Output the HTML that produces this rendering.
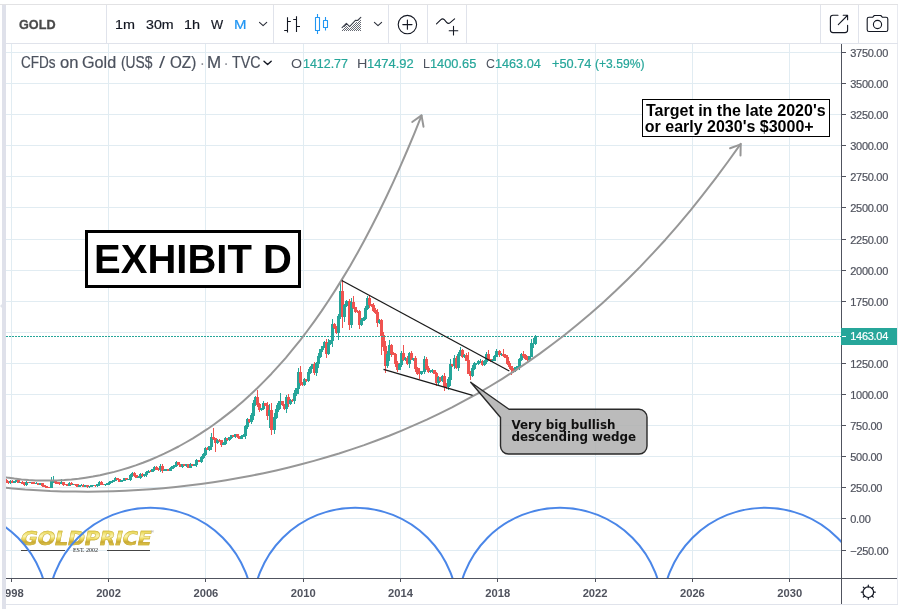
<!DOCTYPE html>
<html lang="en"><head><meta charset="utf-8"><title>GOLD chart - Exhibit D</title>
<style>
*{box-sizing:border-box}
html,body{margin:0;padding:0;background:#fff}
body{width:898px;height:609px;overflow:hidden;position:relative;font-family:"Liberation Sans",sans-serif;color:#131722}
#app{position:absolute;left:0;top:0;width:898px;height:609px;overflow:hidden}
.abs{position:absolute}
.hline{position:absolute;height:1px;background:#e0e3eb}
.vsep{position:absolute;top:5px;width:1px;height:38px;background:#e0e3eb}
.tb{position:absolute;top:5px;height:38px;line-height:38px;font-size:14px;white-space:nowrap;-webkit-text-stroke:0.2px}
.pl{position:absolute;left:850.3px;width:46px;height:16px;line-height:16px;font-size:11px;letter-spacing:-0.3px;color:#50535e;white-space:nowrap;-webkit-text-stroke:0.2px}
.pt{position:absolute;left:842px;width:4px;height:1px;background:#50535e}
.tl{position:absolute;top:585px;width:40px;text-align:center;height:16px;line-height:16px;font-size:11.2px;font-weight:bold;color:#50535e}
.tt{position:absolute;top:579px;width:1px;height:3px;background:#50535e}
.lg{position:absolute;top:54px;height:18px;line-height:18px;white-space:nowrap}
.pt2{white-space:nowrap;line-height:40px;height:40px;transform-origin:0 0}
</style></head><body><div id="app">
<div class="abs" style="left:0;top:4px;width:898px;height:1px;background:#e2e2e4"></div>
<div class="abs" style="left:2px;top:5px;width:4px;height:604px;background:#dfe1ea"></div>
<div class="abs" style="left:897px;top:5px;width:1px;height:600px;background:#e8eaf0"></div>
<div class="abs" style="left:0;top:304px;width:0;height:0;border-top:2px solid transparent;border-bottom:2px solid transparent;border-right:2px solid #e0e3eb"></div>
<div class="hline" style="left:6px;top:43px;width:892px"></div>
<div class="hline" style="left:6px;top:604px;width:892px"></div>

<!-- toolbar -->
<span class="abs pt2" id="sym" style="left:18.93px;top:4.70px;font-size:13.3px;font-weight:bold;color:#4a4a4a;transform:scaleX(0.9505);-webkit-text-stroke:0.3px">GOLD</span>
<div class="vsep" style="left:106px"></div>
<span class="abs pt2" style="left:114.80px;top:4.81px;font-size:13.3px;color:#131722;transform:scaleX(1.0800);-webkit-text-stroke:0.2px">1m</span> <span class="abs pt2" style="left:145.59px;top:4.81px;font-size:13.3px;color:#131722;transform:scaleX(1.0670);-webkit-text-stroke:0.2px">30m</span> <span class="abs pt2" style="left:183.69px;top:4.81px;font-size:13.3px;color:#131722;transform:scaleX(1.0863);-webkit-text-stroke:0.2px">1h</span> <span class="abs pt2" style="left:211.37px;top:4.81px;font-size:13.3px;color:#131722;transform:scaleX(0.9662);-webkit-text-stroke:0.2px">W</span> <span class="abs pt2" style="left:233.75px;top:4.81px;font-size:13.3px;color:#2196f3;transform:scaleX(1.1273);-webkit-text-stroke:0.2px">M</span>
<div class="vsep" style="left:273px"></div>
<div class="vsep" style="left:388px"></div>
<div class="vsep" style="left:427px"></div>
<div class="vsep" style="left:466px"></div>
<div class="vsep" style="left:820px"></div>
<div class="vsep" style="left:858px"></div>
<svg class="abs" style="left:0;top:0" width="898" height="44" viewBox="0 0 898 44" fill="none" stroke="#131722" stroke-width="1.1" stroke-linecap="round" stroke-linejoin="round">
<path d="M259.5,22.4 l3.6,3.3 l3.6,-3.3" stroke-width="1.1" stroke="#2a2e39"/>
<path d="M374.4,22.4 l3.6,3.3 l3.6,-3.3" stroke-width="1.1" stroke="#2a2e39"/>
<path d="M287.5,17.2 V32.6 M284.2,30.5 H287.5 M287.5,21.5 H290.8 M296.5,16.3 V32 M293.2,19.5 H296.5 M296.5,26.5 H300" stroke-linecap="butt"/>
<g stroke="#2196f3" stroke-linecap="butt"><rect x="315.5" y="17.5" width="4" height="13"/><path d="M317.5,14 V17.5 M317.5,30.5 V34"/><rect x="323.5" y="20.5" width="4" height="7"/><path d="M325.5,17 V20.5 M325.5,27.5 V30.5"/></g>
<path d="M360,20h1v1h-1zM359,21h1v1h-1zM356,22h1v1h-1zM358,22h1v1h-1zM360,22h1v1h-1zM355,23h1v1h-1zM357,23h1v1h-1zM359,23h1v1h-1zM354,24h1v1h-1zM356,24h1v1h-1zM358,24h1v1h-1zM360,24h1v1h-1zM345,25h1v1h-1zM353,25h1v1h-1zM355,25h1v1h-1zM357,25h1v1h-1zM359,25h1v1h-1zM344,26h1v1h-1zM346,26h1v1h-1zM352,26h1v1h-1zM354,26h1v1h-1zM356,26h1v1h-1zM358,26h1v1h-1zM360,26h1v1h-1zM345,27h1v1h-1zM347,27h1v1h-1zM351,27h1v1h-1zM353,27h1v1h-1zM355,27h1v1h-1zM357,27h1v1h-1zM359,27h1v1h-1zM344,28h1v1h-1zM346,28h1v1h-1zM348,28h1v1h-1zM350,28h1v1h-1zM352,28h1v1h-1zM354,28h1v1h-1zM356,28h1v1h-1zM358,28h1v1h-1zM360,28h1v1h-1zM343,29h1v1h-1zM345,29h1v1h-1zM347,29h1v1h-1zM349,29h1v1h-1zM351,29h1v1h-1zM353,29h1v1h-1zM355,29h1v1h-1zM357,29h1v1h-1zM359,29h1v1h-1zM342,30h1v1h-1zM344,30h1v1h-1zM346,30h1v1h-1zM348,30h1v1h-1zM350,30h1v1h-1zM352,30h1v1h-1zM354,30h1v1h-1zM356,30h1v1h-1zM358,30h1v1h-1zM360,30h1v1h-1z" fill="#4a4e59" stroke="none" opacity="0.85"/>
<path d="M342.1,27.7 L346.4,23.4 L349.6,26.6 L355.4,20.4 L357.6,20.5 L360.8,17.3" stroke="#3c404b" stroke-width="1.15"/>
<circle cx="407.4" cy="24.6" r="9.2"/>
<path d="M402.8,24.6 H412 M407.4,20 V29.2"/>
<path d="M436.5,23.8 L440.9,19.6 Q442.6,18 444.3,19.7 L446.6,22.3 Q448.3,24.2 450.2,22.6 L454.6,18.9"/>
<path d="M449.2,30.7 H457.8 M453.5,26.4 V35"/>
<path d="M838,15.3 H833 a2.6,2.6 0 0 0 -2.6,2.6 V30 a2.6,2.6 0 0 0 2.6,2.6 H845 a2.6,2.6 0 0 0 2.6,-2.6 V25.2"/>
<path d="M838.3,24.6 L847.4,15.5 M843.2,15.3 H847.6 V19.7"/>
<path d="M869,17.3 H872.6 L874.3,15.5 H880.8 L882.5,17.3 H886 a1.8,1.8 0 0 1 1.8,1.8 V29.7 a1.8,1.8 0 0 1 -1.8,1.8 H869 a1.8,1.8 0 0 1 -1.8,-1.8 V19.1 a1.8,1.8 0 0 1 1.8,-1.8 Z"/>
<circle cx="877.5" cy="24.5" r="4.1"/>
<defs><pattern id="dots" width="2" height="2" patternUnits="userSpaceOnUse"><rect x="0" y="0" width="1" height="1" fill="#444"/><rect x="1" y="1" width="1" height="1" fill="#444"/></pattern></defs>
</svg>

<!-- grid -->
<svg class="abs" style="left:0;top:0" width="898" height="609" viewBox="0 0 898 609">
<rect x="6" y="550" width="835" height="1" fill="#e1ecf2"/>
<rect x="6" y="518" width="835" height="1" fill="#e1ecf2"/>
<rect x="6" y="487" width="835" height="1" fill="#e1ecf2"/>
<rect x="6" y="456" width="835" height="1" fill="#e1ecf2"/>
<rect x="6" y="425" width="835" height="1" fill="#e1ecf2"/>
<rect x="6" y="394" width="835" height="1" fill="#e1ecf2"/>
<rect x="6" y="363" width="835" height="1" fill="#e1ecf2"/>
<rect x="6" y="332" width="835" height="1" fill="#e1ecf2"/>
<rect x="6" y="301" width="835" height="1" fill="#e1ecf2"/>
<rect x="6" y="270" width="835" height="1" fill="#e1ecf2"/>
<rect x="6" y="239" width="835" height="1" fill="#e1ecf2"/>
<rect x="6" y="207" width="835" height="1" fill="#e1ecf2"/>
<rect x="6" y="176" width="835" height="1" fill="#e1ecf2"/>
<rect x="6" y="145" width="835" height="1" fill="#e1ecf2"/>
<rect x="6" y="114" width="835" height="1" fill="#e1ecf2"/>
<rect x="6" y="83" width="835" height="1" fill="#e1ecf2"/>
<rect x="6" y="52" width="835" height="1" fill="#e1ecf2"/>
<rect x="11" y="44" width="1" height="534" fill="#e1ecf2"/>
<rect x="108" y="44" width="1" height="534" fill="#e1ecf2"/>
<rect x="205" y="44" width="1" height="534" fill="#e1ecf2"/>
<rect x="303" y="44" width="1" height="534" fill="#e1ecf2"/>
<rect x="400" y="44" width="1" height="534" fill="#e1ecf2"/>
<rect x="497" y="44" width="1" height="534" fill="#e1ecf2"/>
<rect x="595" y="44" width="1" height="534" fill="#e1ecf2"/>
<rect x="692" y="44" width="1" height="534" fill="#e1ecf2"/>
<rect x="789" y="44" width="1" height="534" fill="#e1ecf2"/>
</svg>
<!-- watermark logo -->
<div class="abs" id="logo" style="left:21px;top:527px;width:132px;height:28px">
<div class="abs" id="gp" style="left:0;top:-0.5px;font-family:'DejaVu Sans','Liberation Sans',sans-serif;font-weight:bold;font-style:italic;font-size:19px;line-height:22px;letter-spacing:-0.2px;transform-origin:0 0;transform:scaleX(1.085);white-space:nowrap;background:linear-gradient(180deg,#ead858 0%,#ead858 22%,#faf4b0 42%,#f0dc60 54%,#c8a832 68%,#e4cc50 84%,#b89828 100%);-webkit-background-clip:text;background-clip:text;color:transparent;-webkit-text-stroke:0.5px rgba(190,160,44,0.8)">GOLDPRICE</div>
<div class="abs" style="left:130px;top:3px;font-size:4px;line-height:4px;color:#888">®</div>
<div class="abs" style="left:0;top:23px;width:44px;height:1px;background:#444"></div>
<div class="abs" style="left:85.5px;top:23px;width:43.5px;height:1px;background:#444"></div>
<div class="abs" style="left:44px;top:20px;width:41px;text-align:center;font-family:'Liberation Serif',serif;font-size:6px;line-height:7px;color:#222;white-space:nowrap">EST. 2002</div>
</div>

<!-- chart graphics -->
<svg class="abs" style="left:0;top:0" width="898" height="609" viewBox="0 0 898 609">
<defs><clipPath id="cc"><rect x="6" y="44" width="835" height="534"/></clipPath></defs>
<g clip-path="url(#cc)">
<g><rect x="-15" y="473" width="3" height="4" fill="#ef5350"/><rect x="-14" y="472" width="1" height="5" fill="#ef5350"/><rect x="-13" y="474" width="3" height="3" fill="#26a69a"/><rect x="-12" y="473" width="1" height="4" fill="#26a69a"/><rect x="-11" y="474" width="3" height="2" fill="#ef5350"/><rect x="-10" y="474" width="1" height="2" fill="#ef5350"/><rect x="-9" y="475" width="3" height="2" fill="#ef5350"/><rect x="-8" y="475" width="1" height="2" fill="#ef5350"/><rect x="-7" y="476" width="3" height="1" fill="#26a69a"/><rect x="-6" y="475" width="1" height="2" fill="#26a69a"/><rect x="-5" y="476" width="3" height="2" fill="#ef5350"/><rect x="-4" y="475" width="1" height="3" fill="#ef5350"/><rect x="-3" y="477" width="3" height="2" fill="#ef5350"/><rect x="-2" y="477" width="1" height="2" fill="#ef5350"/><rect x="-1" y="478" width="3" height="1" fill="#ef5350"/><rect x="0" y="478" width="1" height="1" fill="#ef5350"/><rect x="1" y="477" width="3" height="2" fill="#26a69a"/><rect x="2" y="477" width="1" height="2" fill="#26a69a"/><rect x="3" y="477" width="3" height="4" fill="#ef5350"/><rect x="4" y="476" width="1" height="5" fill="#ef5350"/><rect x="5" y="480" width="3" height="3" fill="#ef5350"/><rect x="6" y="479" width="1" height="4" fill="#ef5350"/><rect x="7" y="482" width="3" height="1" fill="#ef5350"/><rect x="8" y="481" width="1" height="3" fill="#ef5350"/><rect x="9" y="481" width="3" height="2" fill="#26a69a"/><rect x="10" y="480" width="1" height="4" fill="#26a69a"/><rect x="11" y="481" width="3" height="2" fill="#ef5350"/><rect x="12" y="480" width="1" height="3" fill="#ef5350"/><rect x="13" y="481" width="3" height="2" fill="#26a69a"/><rect x="14" y="481" width="1" height="2" fill="#26a69a"/><rect x="15" y="480" width="3" height="2" fill="#26a69a"/><rect x="16" y="480" width="1" height="2" fill="#26a69a"/><rect x="17" y="480" width="3" height="3" fill="#ef5350"/><rect x="18" y="479" width="1" height="4" fill="#ef5350"/><rect x="19" y="482" width="3" height="1" fill="#26a69a"/><rect x="20" y="482" width="1" height="1" fill="#26a69a"/><rect x="21" y="482" width="3" height="2" fill="#ef5350"/><rect x="22" y="481" width="1" height="3" fill="#ef5350"/><rect x="23" y="483" width="3" height="2" fill="#ef5350"/><rect x="24" y="482" width="1" height="4" fill="#ef5350"/><rect x="25" y="482" width="3" height="3" fill="#26a69a"/><rect x="26" y="481" width="1" height="5" fill="#26a69a"/><rect x="27" y="482" width="3" height="1" fill="#ef5350"/><rect x="28" y="482" width="1" height="1" fill="#ef5350"/><rect x="29" y="482" width="3" height="1" fill="#26a69a"/><rect x="30" y="482" width="1" height="1" fill="#26a69a"/><rect x="31" y="482" width="3" height="2" fill="#ef5350"/><rect x="32" y="482" width="1" height="2" fill="#ef5350"/><rect x="33" y="483" width="3" height="1" fill="#ef5350"/><rect x="34" y="482" width="1" height="2" fill="#ef5350"/><rect x="35" y="483" width="3" height="1" fill="#26a69a"/><rect x="36" y="482" width="1" height="2" fill="#26a69a"/><rect x="37" y="483" width="3" height="2" fill="#ef5350"/><rect x="38" y="483" width="1" height="2" fill="#ef5350"/><rect x="39" y="483" width="3" height="2" fill="#26a69a"/><rect x="40" y="483" width="1" height="2" fill="#26a69a"/><rect x="41" y="483" width="3" height="3" fill="#ef5350"/><rect x="42" y="483" width="1" height="4" fill="#ef5350"/><rect x="43" y="485" width="3" height="2" fill="#ef5350"/><rect x="44" y="485" width="1" height="2" fill="#ef5350"/><rect x="45" y="486" width="3" height="2" fill="#ef5350"/><rect x="46" y="486" width="1" height="2" fill="#ef5350"/><rect x="48" y="487" width="3" height="1" fill="#ef5350"/><rect x="49" y="487" width="1" height="1" fill="#ef5350"/><rect x="50" y="481" width="3" height="7" fill="#26a69a"/><rect x="51" y="477" width="1" height="11" fill="#26a69a"/><rect x="52" y="481" width="3" height="1" fill="#26a69a"/><rect x="53" y="476" width="1" height="7" fill="#26a69a"/><rect x="54" y="481" width="3" height="2" fill="#ef5350"/><rect x="55" y="481" width="1" height="3" fill="#ef5350"/><rect x="56" y="482" width="3" height="2" fill="#ef5350"/><rect x="57" y="482" width="1" height="2" fill="#ef5350"/><rect x="58" y="483" width="3" height="1" fill="#ef5350"/><rect x="59" y="482" width="1" height="3" fill="#ef5350"/><rect x="60" y="482" width="3" height="2" fill="#26a69a"/><rect x="61" y="479" width="1" height="5" fill="#26a69a"/><rect x="62" y="482" width="3" height="3" fill="#ef5350"/><rect x="63" y="482" width="1" height="4" fill="#ef5350"/><rect x="64" y="484" width="3" height="1" fill="#ef5350"/><rect x="65" y="484" width="1" height="1" fill="#ef5350"/><rect x="66" y="484" width="3" height="2" fill="#ef5350"/><rect x="67" y="484" width="1" height="2" fill="#ef5350"/><rect x="68" y="483" width="3" height="3" fill="#26a69a"/><rect x="69" y="482" width="1" height="4" fill="#26a69a"/><rect x="70" y="483" width="3" height="2" fill="#ef5350"/><rect x="71" y="482" width="1" height="3" fill="#ef5350"/><rect x="72" y="484" width="3" height="1" fill="#26a69a"/><rect x="73" y="484" width="1" height="1" fill="#26a69a"/><rect x="74" y="484" width="3" height="1" fill="#ef5350"/><rect x="75" y="484" width="1" height="2" fill="#ef5350"/><rect x="76" y="484" width="3" height="3" fill="#ef5350"/><rect x="77" y="484" width="1" height="3" fill="#ef5350"/><rect x="78" y="485" width="3" height="2" fill="#26a69a"/><rect x="79" y="485" width="1" height="2" fill="#26a69a"/><rect x="80" y="485" width="3" height="1" fill="#26a69a"/><rect x="81" y="484" width="1" height="2" fill="#26a69a"/><rect x="82" y="485" width="3" height="2" fill="#ef5350"/><rect x="83" y="484" width="1" height="3" fill="#ef5350"/><rect x="84" y="485" width="3" height="2" fill="#26a69a"/><rect x="85" y="485" width="1" height="2" fill="#26a69a"/><rect x="86" y="485" width="3" height="2" fill="#ef5350"/><rect x="87" y="485" width="1" height="3" fill="#ef5350"/><rect x="88" y="486" width="3" height="1" fill="#26a69a"/><rect x="89" y="486" width="1" height="2" fill="#26a69a"/><rect x="90" y="485" width="3" height="2" fill="#26a69a"/><rect x="91" y="485" width="1" height="2" fill="#26a69a"/><rect x="92" y="485" width="3" height="1" fill="#26a69a"/><rect x="93" y="485" width="1" height="1" fill="#26a69a"/><rect x="94" y="485" width="3" height="1" fill="#ef5350"/><rect x="95" y="485" width="1" height="2" fill="#ef5350"/><rect x="96" y="484" width="3" height="2" fill="#26a69a"/><rect x="97" y="484" width="1" height="3" fill="#26a69a"/><rect x="98" y="482" width="3" height="3" fill="#26a69a"/><rect x="99" y="481" width="1" height="5" fill="#26a69a"/><rect x="100" y="482" width="3" height="3" fill="#ef5350"/><rect x="101" y="481" width="1" height="4" fill="#ef5350"/><rect x="102" y="484" width="3" height="1" fill="#ef5350"/><rect x="103" y="484" width="1" height="1" fill="#ef5350"/><rect x="104" y="484" width="3" height="1" fill="#26a69a"/><rect x="105" y="484" width="1" height="2" fill="#26a69a"/><rect x="106" y="483" width="3" height="2" fill="#26a69a"/><rect x="107" y="483" width="1" height="2" fill="#26a69a"/><rect x="108" y="482" width="3" height="2" fill="#26a69a"/><rect x="109" y="481" width="1" height="4" fill="#26a69a"/><rect x="110" y="481" width="3" height="2" fill="#26a69a"/><rect x="111" y="481" width="1" height="2" fill="#26a69a"/><rect x="112" y="480" width="3" height="2" fill="#26a69a"/><rect x="113" y="480" width="1" height="2" fill="#26a69a"/><rect x="114" y="478" width="3" height="3" fill="#26a69a"/><rect x="115" y="477" width="1" height="4" fill="#26a69a"/><rect x="116" y="478" width="3" height="2" fill="#ef5350"/><rect x="117" y="478" width="1" height="2" fill="#ef5350"/><rect x="118" y="479" width="3" height="3" fill="#ef5350"/><rect x="119" y="479" width="1" height="3" fill="#ef5350"/><rect x="120" y="480" width="3" height="2" fill="#26a69a"/><rect x="121" y="480" width="1" height="2" fill="#26a69a"/><rect x="123" y="478" width="3" height="3" fill="#26a69a"/><rect x="124" y="478" width="1" height="3" fill="#26a69a"/><rect x="125" y="478" width="3" height="2" fill="#ef5350"/><rect x="126" y="478" width="1" height="2" fill="#ef5350"/><rect x="127" y="479" width="3" height="1" fill="#26a69a"/><rect x="128" y="479" width="1" height="1" fill="#26a69a"/><rect x="129" y="475" width="3" height="5" fill="#26a69a"/><rect x="130" y="474" width="1" height="7" fill="#26a69a"/><rect x="131" y="473" width="3" height="3" fill="#26a69a"/><rect x="132" y="472" width="1" height="5" fill="#26a69a"/><rect x="133" y="473" width="3" height="3" fill="#ef5350"/><rect x="134" y="472" width="1" height="5" fill="#ef5350"/><rect x="135" y="475" width="3" height="3" fill="#ef5350"/><rect x="136" y="475" width="1" height="3" fill="#ef5350"/><rect x="137" y="477" width="3" height="1" fill="#26a69a"/><rect x="138" y="476" width="1" height="2" fill="#26a69a"/><rect x="139" y="474" width="3" height="4" fill="#26a69a"/><rect x="140" y="473" width="1" height="6" fill="#26a69a"/><rect x="141" y="474" width="3" height="2" fill="#ef5350"/><rect x="142" y="473" width="1" height="4" fill="#ef5350"/><rect x="143" y="474" width="3" height="2" fill="#26a69a"/><rect x="144" y="474" width="1" height="3" fill="#26a69a"/><rect x="145" y="472" width="3" height="3" fill="#26a69a"/><rect x="146" y="471" width="1" height="6" fill="#26a69a"/><rect x="147" y="471" width="3" height="2" fill="#26a69a"/><rect x="148" y="470" width="1" height="3" fill="#26a69a"/><rect x="149" y="471" width="3" height="1" fill="#ef5350"/><rect x="150" y="470" width="1" height="2" fill="#ef5350"/><rect x="151" y="469" width="3" height="3" fill="#26a69a"/><rect x="152" y="469" width="1" height="3" fill="#26a69a"/><rect x="153" y="467" width="3" height="3" fill="#26a69a"/><rect x="154" y="466" width="1" height="5" fill="#26a69a"/><rect x="155" y="467" width="3" height="3" fill="#ef5350"/><rect x="156" y="466" width="1" height="4" fill="#ef5350"/><rect x="157" y="469" width="3" height="1" fill="#ef5350"/><rect x="158" y="468" width="1" height="3" fill="#ef5350"/><rect x="159" y="466" width="3" height="4" fill="#26a69a"/><rect x="160" y="464" width="1" height="8" fill="#26a69a"/><rect x="161" y="466" width="3" height="5" fill="#ef5350"/><rect x="162" y="464" width="1" height="9" fill="#ef5350"/><rect x="163" y="470" width="3" height="1" fill="#26a69a"/><rect x="164" y="469" width="1" height="2" fill="#26a69a"/><rect x="165" y="469" width="3" height="2" fill="#26a69a"/><rect x="166" y="469" width="1" height="2" fill="#26a69a"/><rect x="167" y="469" width="3" height="2" fill="#ef5350"/><rect x="168" y="469" width="1" height="2" fill="#ef5350"/><rect x="169" y="468" width="3" height="3" fill="#26a69a"/><rect x="170" y="467" width="1" height="4" fill="#26a69a"/><rect x="171" y="466" width="3" height="3" fill="#26a69a"/><rect x="172" y="466" width="1" height="3" fill="#26a69a"/><rect x="173" y="465" width="3" height="2" fill="#26a69a"/><rect x="174" y="465" width="1" height="3" fill="#26a69a"/><rect x="175" y="462" width="3" height="4" fill="#26a69a"/><rect x="176" y="461" width="1" height="6" fill="#26a69a"/><rect x="177" y="462" width="3" height="3" fill="#ef5350"/><rect x="178" y="462" width="1" height="3" fill="#ef5350"/><rect x="179" y="464" width="3" height="3" fill="#ef5350"/><rect x="180" y="464" width="1" height="3" fill="#ef5350"/><rect x="181" y="464" width="3" height="3" fill="#26a69a"/><rect x="182" y="464" width="1" height="4" fill="#26a69a"/><rect x="183" y="464" width="3" height="2" fill="#ef5350"/><rect x="184" y="464" width="1" height="2" fill="#ef5350"/><rect x="185" y="464" width="3" height="2" fill="#26a69a"/><rect x="186" y="464" width="1" height="3" fill="#26a69a"/><rect x="187" y="464" width="3" height="4" fill="#ef5350"/><rect x="188" y="464" width="1" height="4" fill="#ef5350"/><rect x="189" y="464" width="3" height="4" fill="#26a69a"/><rect x="190" y="463" width="1" height="5" fill="#26a69a"/><rect x="191" y="464" width="3" height="2" fill="#ef5350"/><rect x="192" y="464" width="1" height="2" fill="#ef5350"/><rect x="193" y="464" width="3" height="2" fill="#26a69a"/><rect x="194" y="464" width="1" height="2" fill="#26a69a"/><rect x="195" y="460" width="3" height="5" fill="#26a69a"/><rect x="196" y="459" width="1" height="8" fill="#26a69a"/><rect x="198" y="460" width="3" height="2" fill="#ef5350"/><rect x="199" y="460" width="1" height="2" fill="#ef5350"/><rect x="200" y="457" width="3" height="5" fill="#26a69a"/><rect x="201" y="456" width="1" height="7" fill="#26a69a"/><rect x="202" y="454" width="3" height="4" fill="#26a69a"/><rect x="203" y="453" width="1" height="6" fill="#26a69a"/><rect x="204" y="448" width="3" height="7" fill="#26a69a"/><rect x="205" y="447" width="1" height="9" fill="#26a69a"/><rect x="206" y="448" width="3" height="2" fill="#ef5350"/><rect x="207" y="447" width="1" height="3" fill="#ef5350"/><rect x="208" y="446" width="3" height="4" fill="#26a69a"/><rect x="209" y="446" width="1" height="5" fill="#26a69a"/><rect x="210" y="437" width="3" height="10" fill="#26a69a"/><rect x="211" y="433" width="1" height="17" fill="#26a69a"/><rect x="212" y="437" width="3" height="2" fill="#ef5350"/><rect x="213" y="428" width="1" height="12" fill="#ef5350"/><rect x="214" y="438" width="3" height="5" fill="#ef5350"/><rect x="215" y="438" width="1" height="14" fill="#ef5350"/><rect x="216" y="440" width="3" height="3" fill="#26a69a"/><rect x="217" y="439" width="1" height="5" fill="#26a69a"/><rect x="218" y="440" width="3" height="1" fill="#ef5350"/><rect x="219" y="439" width="1" height="3" fill="#ef5350"/><rect x="220" y="440" width="3" height="5" fill="#ef5350"/><rect x="221" y="440" width="1" height="7" fill="#ef5350"/><rect x="222" y="443" width="3" height="2" fill="#26a69a"/><rect x="223" y="442" width="1" height="3" fill="#26a69a"/><rect x="224" y="438" width="3" height="6" fill="#26a69a"/><rect x="225" y="437" width="1" height="8" fill="#26a69a"/><rect x="226" y="438" width="3" height="2" fill="#ef5350"/><rect x="227" y="438" width="1" height="3" fill="#ef5350"/><rect x="228" y="437" width="3" height="3" fill="#26a69a"/><rect x="229" y="437" width="1" height="4" fill="#26a69a"/><rect x="230" y="435" width="3" height="3" fill="#26a69a"/><rect x="231" y="435" width="1" height="4" fill="#26a69a"/><rect x="232" y="435" width="3" height="2" fill="#ef5350"/><rect x="233" y="435" width="1" height="2" fill="#ef5350"/><rect x="234" y="434" width="3" height="3" fill="#26a69a"/><rect x="235" y="434" width="1" height="4" fill="#26a69a"/><rect x="236" y="434" width="3" height="3" fill="#ef5350"/><rect x="237" y="434" width="1" height="4" fill="#ef5350"/><rect x="238" y="436" width="3" height="3" fill="#ef5350"/><rect x="239" y="436" width="1" height="3" fill="#ef5350"/><rect x="240" y="436" width="3" height="3" fill="#26a69a"/><rect x="241" y="435" width="1" height="4" fill="#26a69a"/><rect x="242" y="435" width="3" height="2" fill="#26a69a"/><rect x="243" y="434" width="1" height="3" fill="#26a69a"/><rect x="244" y="426" width="3" height="10" fill="#26a69a"/><rect x="245" y="425" width="1" height="14" fill="#26a69a"/><rect x="246" y="419" width="3" height="8" fill="#26a69a"/><rect x="247" y="418" width="1" height="11" fill="#26a69a"/><rect x="248" y="419" width="3" height="3" fill="#ef5350"/><rect x="249" y="419" width="1" height="4" fill="#ef5350"/><rect x="250" y="415" width="3" height="7" fill="#26a69a"/><rect x="251" y="413" width="1" height="11" fill="#26a69a"/><rect x="252" y="403" width="3" height="13" fill="#26a69a"/><rect x="253" y="400" width="1" height="20" fill="#26a69a"/><rect x="254" y="397" width="3" height="7" fill="#26a69a"/><rect x="255" y="396" width="1" height="10" fill="#26a69a"/><rect x="256" y="397" width="3" height="8" fill="#ef5350"/><rect x="257" y="390" width="1" height="17" fill="#ef5350"/><rect x="258" y="404" width="3" height="6" fill="#ef5350"/><rect x="259" y="403" width="1" height="9" fill="#ef5350"/><rect x="260" y="408" width="3" height="2" fill="#26a69a"/><rect x="261" y="408" width="1" height="3" fill="#26a69a"/><rect x="262" y="403" width="3" height="6" fill="#26a69a"/><rect x="263" y="401" width="1" height="9" fill="#26a69a"/><rect x="264" y="403" width="3" height="3" fill="#ef5350"/><rect x="265" y="403" width="1" height="3" fill="#ef5350"/><rect x="266" y="405" width="3" height="11" fill="#ef5350"/><rect x="267" y="402" width="1" height="18" fill="#ef5350"/><rect x="268" y="410" width="3" height="6" fill="#26a69a"/><rect x="269" y="404" width="1" height="24" fill="#26a69a"/><rect x="270" y="410" width="3" height="20" fill="#ef5350"/><rect x="271" y="403" width="1" height="32" fill="#ef5350"/><rect x="273" y="417" width="3" height="13" fill="#26a69a"/><rect x="274" y="413" width="1" height="21" fill="#26a69a"/><rect x="275" y="409" width="3" height="9" fill="#26a69a"/><rect x="276" y="405" width="1" height="14" fill="#26a69a"/><rect x="277" y="403" width="3" height="7" fill="#26a69a"/><rect x="278" y="401" width="1" height="11" fill="#26a69a"/><rect x="279" y="401" width="3" height="3" fill="#26a69a"/><rect x="280" y="393" width="1" height="16" fill="#26a69a"/><rect x="281" y="401" width="3" height="4" fill="#ef5350"/><rect x="282" y="401" width="1" height="5" fill="#ef5350"/><rect x="283" y="404" width="3" height="5" fill="#ef5350"/><rect x="284" y="404" width="1" height="6" fill="#ef5350"/><rect x="285" y="397" width="3" height="12" fill="#26a69a"/><rect x="286" y="395" width="1" height="18" fill="#26a69a"/><rect x="287" y="397" width="3" height="7" fill="#ef5350"/><rect x="288" y="394" width="1" height="13" fill="#ef5350"/><rect x="289" y="400" width="3" height="4" fill="#26a69a"/><rect x="290" y="399" width="1" height="6" fill="#26a69a"/><rect x="291" y="400" width="3" height="1" fill="#ef5350"/><rect x="292" y="399" width="1" height="3" fill="#ef5350"/><rect x="293" y="393" width="3" height="8" fill="#26a69a"/><rect x="294" y="390" width="1" height="14" fill="#26a69a"/><rect x="295" y="388" width="3" height="6" fill="#26a69a"/><rect x="296" y="388" width="1" height="8" fill="#26a69a"/><rect x="297" y="372" width="3" height="17" fill="#26a69a"/><rect x="298" y="368" width="1" height="26" fill="#26a69a"/><rect x="299" y="372" width="3" height="11" fill="#ef5350"/><rect x="300" y="366" width="1" height="20" fill="#ef5350"/><rect x="301" y="382" width="3" height="3" fill="#ef5350"/><rect x="302" y="382" width="1" height="4" fill="#ef5350"/><rect x="303" y="379" width="3" height="6" fill="#26a69a"/><rect x="304" y="378" width="1" height="8" fill="#26a69a"/><rect x="305" y="379" width="3" height="2" fill="#ef5350"/><rect x="306" y="379" width="1" height="3" fill="#ef5350"/><rect x="307" y="372" width="3" height="9" fill="#26a69a"/><rect x="308" y="369" width="1" height="13" fill="#26a69a"/><rect x="309" y="367" width="3" height="6" fill="#26a69a"/><rect x="310" y="366" width="1" height="8" fill="#26a69a"/><rect x="311" y="364" width="3" height="4" fill="#26a69a"/><rect x="312" y="364" width="1" height="5" fill="#26a69a"/><rect x="313" y="364" width="3" height="9" fill="#ef5350"/><rect x="314" y="362" width="1" height="13" fill="#ef5350"/><rect x="315" y="363" width="3" height="10" fill="#26a69a"/><rect x="316" y="362" width="1" height="14" fill="#26a69a"/><rect x="317" y="356" width="3" height="8" fill="#26a69a"/><rect x="318" y="353" width="1" height="15" fill="#26a69a"/><rect x="319" y="349" width="3" height="8" fill="#26a69a"/><rect x="320" y="349" width="1" height="9" fill="#26a69a"/><rect x="321" y="346" width="3" height="4" fill="#26a69a"/><rect x="322" y="346" width="1" height="6" fill="#26a69a"/><rect x="323" y="342" width="3" height="5" fill="#26a69a"/><rect x="324" y="341" width="1" height="7" fill="#26a69a"/><rect x="325" y="342" width="3" height="12" fill="#ef5350"/><rect x="326" y="339" width="1" height="19" fill="#ef5350"/><rect x="327" y="343" width="3" height="11" fill="#26a69a"/><rect x="328" y="339" width="1" height="16" fill="#26a69a"/><rect x="329" y="340" width="3" height="4" fill="#26a69a"/><rect x="330" y="340" width="1" height="5" fill="#26a69a"/><rect x="331" y="324" width="3" height="17" fill="#26a69a"/><rect x="332" y="319" width="1" height="28" fill="#26a69a"/><rect x="333" y="324" width="3" height="4" fill="#ef5350"/><rect x="334" y="323" width="1" height="6" fill="#ef5350"/><rect x="335" y="327" width="3" height="6" fill="#ef5350"/><rect x="336" y="326" width="1" height="8" fill="#ef5350"/><rect x="337" y="316" width="3" height="17" fill="#26a69a"/><rect x="338" y="314" width="1" height="26" fill="#26a69a"/><rect x="339" y="291" width="3" height="26" fill="#26a69a"/><rect x="340" y="281" width="1" height="38" fill="#26a69a"/><rect x="341" y="291" width="3" height="26" fill="#ef5350"/><rect x="342" y="279" width="1" height="49" fill="#ef5350"/><rect x="343" y="305" width="3" height="12" fill="#26a69a"/><rect x="344" y="304" width="1" height="18" fill="#26a69a"/><rect x="345" y="301" width="3" height="5" fill="#26a69a"/><rect x="346" y="300" width="1" height="7" fill="#26a69a"/><rect x="348" y="301" width="3" height="24" fill="#ef5350"/><rect x="349" y="299" width="1" height="31" fill="#ef5350"/><rect x="350" y="302" width="3" height="23" fill="#26a69a"/><rect x="351" y="298" width="1" height="30" fill="#26a69a"/><rect x="352" y="302" width="3" height="6" fill="#ef5350"/><rect x="353" y="296" width="1" height="13" fill="#ef5350"/><rect x="354" y="307" width="3" height="5" fill="#ef5350"/><rect x="355" y="307" width="1" height="6" fill="#ef5350"/><rect x="356" y="311" width="3" height="1" fill="#ef5350"/><rect x="357" y="310" width="1" height="3" fill="#ef5350"/><rect x="358" y="311" width="3" height="14" fill="#ef5350"/><rect x="359" y="310" width="1" height="19" fill="#ef5350"/><rect x="360" y="320" width="3" height="5" fill="#26a69a"/><rect x="361" y="318" width="1" height="8" fill="#26a69a"/><rect x="362" y="318" width="3" height="3" fill="#26a69a"/><rect x="363" y="317" width="1" height="4" fill="#26a69a"/><rect x="364" y="308" width="3" height="11" fill="#26a69a"/><rect x="365" y="306" width="1" height="14" fill="#26a69a"/><rect x="366" y="298" width="3" height="11" fill="#26a69a"/><rect x="367" y="296" width="1" height="14" fill="#26a69a"/><rect x="368" y="298" width="3" height="7" fill="#ef5350"/><rect x="369" y="295" width="1" height="13" fill="#ef5350"/><rect x="370" y="304" width="3" height="2" fill="#ef5350"/><rect x="371" y="304" width="1" height="3" fill="#ef5350"/><rect x="372" y="305" width="3" height="6" fill="#ef5350"/><rect x="373" y="303" width="1" height="9" fill="#ef5350"/><rect x="374" y="310" width="3" height="3" fill="#ef5350"/><rect x="375" y="308" width="1" height="6" fill="#ef5350"/><rect x="376" y="312" width="3" height="11" fill="#ef5350"/><rect x="377" y="309" width="1" height="18" fill="#ef5350"/><rect x="378" y="320" width="3" height="3" fill="#26a69a"/><rect x="379" y="319" width="1" height="5" fill="#26a69a"/><rect x="380" y="320" width="3" height="16" fill="#ef5350"/><rect x="381" y="319" width="1" height="36" fill="#ef5350"/><rect x="382" y="335" width="3" height="12" fill="#ef5350"/><rect x="383" y="332" width="1" height="19" fill="#ef5350"/><rect x="384" y="346" width="3" height="20" fill="#ef5350"/><rect x="385" y="341" width="1" height="32" fill="#ef5350"/><rect x="386" y="354" width="3" height="12" fill="#26a69a"/><rect x="387" y="351" width="1" height="17" fill="#26a69a"/><rect x="388" y="345" width="3" height="10" fill="#26a69a"/><rect x="389" y="340" width="1" height="21" fill="#26a69a"/><rect x="390" y="345" width="3" height="9" fill="#ef5350"/><rect x="391" y="344" width="1" height="13" fill="#ef5350"/><rect x="392" y="353" width="3" height="2" fill="#ef5350"/><rect x="393" y="352" width="1" height="3" fill="#ef5350"/><rect x="394" y="354" width="3" height="10" fill="#ef5350"/><rect x="395" y="353" width="1" height="14" fill="#ef5350"/><rect x="396" y="363" width="3" height="7" fill="#ef5350"/><rect x="397" y="361" width="1" height="11" fill="#ef5350"/><rect x="398" y="364" width="3" height="6" fill="#26a69a"/><rect x="399" y="363" width="1" height="7" fill="#26a69a"/><rect x="400" y="353" width="3" height="12" fill="#26a69a"/><rect x="401" y="351" width="1" height="16" fill="#26a69a"/><rect x="402" y="353" width="3" height="7" fill="#ef5350"/><rect x="403" y="345" width="1" height="16" fill="#ef5350"/><rect x="404" y="358" width="3" height="2" fill="#26a69a"/><rect x="405" y="357" width="1" height="4" fill="#26a69a"/><rect x="406" y="358" width="3" height="6" fill="#ef5350"/><rect x="407" y="356" width="1" height="9" fill="#ef5350"/><rect x="408" y="353" width="3" height="11" fill="#26a69a"/><rect x="409" y="352" width="1" height="16" fill="#26a69a"/><rect x="410" y="353" width="3" height="7" fill="#ef5350"/><rect x="411" y="351" width="1" height="9" fill="#ef5350"/><rect x="412" y="358" width="3" height="2" fill="#26a69a"/><rect x="413" y="358" width="1" height="3" fill="#26a69a"/><rect x="414" y="358" width="3" height="11" fill="#ef5350"/><rect x="415" y="356" width="1" height="16" fill="#ef5350"/><rect x="416" y="368" width="3" height="6" fill="#ef5350"/><rect x="417" y="367" width="1" height="8" fill="#ef5350"/><rect x="418" y="373" width="3" height="1" fill="#ef5350"/><rect x="419" y="368" width="1" height="11" fill="#ef5350"/><rect x="420" y="371" width="3" height="3" fill="#26a69a"/><rect x="421" y="371" width="1" height="4" fill="#26a69a"/><rect x="423" y="359" width="3" height="13" fill="#26a69a"/><rect x="424" y="356" width="1" height="18" fill="#26a69a"/><rect x="425" y="359" width="3" height="10" fill="#ef5350"/><rect x="426" y="357" width="1" height="13" fill="#ef5350"/><rect x="427" y="368" width="3" height="4" fill="#ef5350"/><rect x="428" y="366" width="1" height="7" fill="#ef5350"/><rect x="429" y="371" width="3" height="1" fill="#26a69a"/><rect x="430" y="370" width="1" height="3" fill="#26a69a"/><rect x="431" y="370" width="3" height="2" fill="#26a69a"/><rect x="432" y="369" width="1" height="4" fill="#26a69a"/><rect x="433" y="370" width="3" height="4" fill="#ef5350"/><rect x="434" y="370" width="1" height="4" fill="#ef5350"/><rect x="435" y="373" width="3" height="10" fill="#ef5350"/><rect x="436" y="372" width="1" height="14" fill="#ef5350"/><rect x="437" y="377" width="3" height="6" fill="#26a69a"/><rect x="438" y="376" width="1" height="9" fill="#26a69a"/><rect x="439" y="377" width="3" height="4" fill="#ef5350"/><rect x="440" y="377" width="1" height="5" fill="#ef5350"/><rect x="441" y="376" width="3" height="5" fill="#26a69a"/><rect x="442" y="375" width="1" height="7" fill="#26a69a"/><rect x="443" y="376" width="3" height="11" fill="#ef5350"/><rect x="444" y="373" width="1" height="18" fill="#ef5350"/><rect x="445" y="386" width="3" height="1" fill="#ef5350"/><rect x="446" y="383" width="1" height="6" fill="#ef5350"/><rect x="447" y="379" width="3" height="8" fill="#26a69a"/><rect x="448" y="377" width="1" height="13" fill="#26a69a"/><rect x="449" y="364" width="3" height="16" fill="#26a69a"/><rect x="450" y="359" width="1" height="27" fill="#26a69a"/><rect x="451" y="364" width="3" height="2" fill="#ef5350"/><rect x="452" y="364" width="1" height="3" fill="#ef5350"/><rect x="453" y="358" width="3" height="8" fill="#26a69a"/><rect x="454" y="355" width="1" height="14" fill="#26a69a"/><rect x="455" y="358" width="3" height="10" fill="#ef5350"/><rect x="456" y="356" width="1" height="13" fill="#ef5350"/><rect x="457" y="354" width="3" height="14" fill="#26a69a"/><rect x="458" y="352" width="1" height="19" fill="#26a69a"/><rect x="459" y="350" width="3" height="5" fill="#26a69a"/><rect x="460" y="347" width="1" height="9" fill="#26a69a"/><rect x="461" y="350" width="3" height="7" fill="#ef5350"/><rect x="462" y="349" width="1" height="9" fill="#ef5350"/><rect x="463" y="355" width="3" height="2" fill="#26a69a"/><rect x="464" y="354" width="1" height="4" fill="#26a69a"/><rect x="465" y="355" width="3" height="6" fill="#ef5350"/><rect x="466" y="353" width="1" height="8" fill="#ef5350"/><rect x="467" y="360" width="3" height="14" fill="#ef5350"/><rect x="468" y="352" width="1" height="22" fill="#ef5350"/><rect x="469" y="373" width="3" height="3" fill="#ef5350"/><rect x="470" y="371" width="1" height="9" fill="#ef5350"/><rect x="471" y="368" width="3" height="8" fill="#26a69a"/><rect x="472" y="365" width="1" height="12" fill="#26a69a"/><rect x="473" y="363" width="3" height="6" fill="#26a69a"/><rect x="474" y="362" width="1" height="8" fill="#26a69a"/><rect x="475" y="363" width="3" height="1" fill="#26a69a"/><rect x="476" y="363" width="1" height="2" fill="#26a69a"/><rect x="477" y="361" width="3" height="3" fill="#26a69a"/><rect x="478" y="360" width="1" height="5" fill="#26a69a"/><rect x="479" y="361" width="3" height="1" fill="#26a69a"/><rect x="480" y="359" width="1" height="4" fill="#26a69a"/><rect x="481" y="361" width="3" height="4" fill="#ef5350"/><rect x="482" y="360" width="1" height="6" fill="#ef5350"/><rect x="483" y="361" width="3" height="4" fill="#26a69a"/><rect x="484" y="360" width="1" height="6" fill="#26a69a"/><rect x="485" y="354" width="3" height="8" fill="#26a69a"/><rect x="486" y="352" width="1" height="12" fill="#26a69a"/><rect x="487" y="354" width="3" height="6" fill="#ef5350"/><rect x="488" y="350" width="1" height="11" fill="#ef5350"/><rect x="489" y="359" width="3" height="2" fill="#ef5350"/><rect x="490" y="359" width="1" height="3" fill="#ef5350"/><rect x="491" y="360" width="3" height="1" fill="#26a69a"/><rect x="492" y="359" width="1" height="3" fill="#26a69a"/><rect x="493" y="356" width="3" height="5" fill="#26a69a"/><rect x="494" y="355" width="1" height="6" fill="#26a69a"/><rect x="495" y="351" width="3" height="6" fill="#26a69a"/><rect x="496" y="349" width="1" height="8" fill="#26a69a"/><rect x="498" y="351" width="3" height="4" fill="#ef5350"/><rect x="499" y="350" width="1" height="7" fill="#ef5350"/><rect x="500" y="354" width="3" height="1" fill="#26a69a"/><rect x="501" y="353" width="1" height="3" fill="#26a69a"/><rect x="502" y="354" width="3" height="2" fill="#ef5350"/><rect x="503" y="349" width="1" height="8" fill="#ef5350"/><rect x="504" y="355" width="3" height="3" fill="#ef5350"/><rect x="505" y="354" width="1" height="4" fill="#ef5350"/><rect x="506" y="357" width="3" height="7" fill="#ef5350"/><rect x="507" y="355" width="1" height="10" fill="#ef5350"/><rect x="508" y="363" width="3" height="4" fill="#ef5350"/><rect x="509" y="361" width="1" height="8" fill="#ef5350"/><rect x="510" y="366" width="3" height="4" fill="#ef5350"/><rect x="511" y="366" width="1" height="9" fill="#ef5350"/><rect x="512" y="369" width="3" height="2" fill="#ef5350"/><rect x="513" y="368" width="1" height="5" fill="#ef5350"/><rect x="514" y="367" width="3" height="4" fill="#26a69a"/><rect x="515" y="367" width="1" height="5" fill="#26a69a"/><rect x="516" y="366" width="3" height="2" fill="#26a69a"/><rect x="517" y="366" width="1" height="4" fill="#26a69a"/><rect x="518" y="359" width="3" height="8" fill="#26a69a"/><rect x="519" y="358" width="1" height="12" fill="#26a69a"/><rect x="520" y="354" width="3" height="6" fill="#26a69a"/><rect x="521" y="353" width="1" height="8" fill="#26a69a"/><rect x="522" y="354" width="3" height="2" fill="#ef5350"/><rect x="523" y="351" width="1" height="7" fill="#ef5350"/><rect x="524" y="355" width="3" height="4" fill="#ef5350"/><rect x="525" y="354" width="1" height="6" fill="#ef5350"/><rect x="526" y="358" width="3" height="2" fill="#ef5350"/><rect x="527" y="356" width="1" height="5" fill="#ef5350"/><rect x="528" y="356" width="3" height="4" fill="#26a69a"/><rect x="529" y="356" width="1" height="5" fill="#26a69a"/><rect x="530" y="343" width="3" height="14" fill="#26a69a"/><rect x="531" y="339" width="1" height="18" fill="#26a69a"/><rect x="532" y="343" width="3" height="1" fill="#26a69a"/><rect x="533" y="338" width="1" height="10" fill="#26a69a"/><rect x="534" y="336" width="3" height="8" fill="#26a69a"/><rect x="535" y="335" width="1" height="10" fill="#26a69a"/></g>
<line x1="6" y1="336.5" x2="841" y2="336.5" stroke="#26a69a" stroke-width="1" stroke-dasharray="2 1"/>
<g fill="none" stroke="#4a86e8" stroke-width="2"><circle cx="-54.4" cy="610.1" r="102.4"/><circle cx="150.4" cy="610.1" r="102.4"/><circle cx="355.2" cy="610.1" r="102.4"/><circle cx="560.0" cy="610.1" r="102.4"/><circle cx="764.9" cy="610.1" r="102.4"/></g>
<g fill="none" stroke="#979797" stroke-width="2" stroke-linecap="round" stroke-linejoin="round"><path d="M0.0,476.4 L7.1,477.6 L14.3,478.6 L21.4,479.4 L28.6,480.0 L35.7,480.4 L42.9,480.6 L50.0,480.6 L57.2,480.4 L64.3,480.1 L71.4,479.5 L78.6,478.7 L85.7,477.7 L92.9,476.6 L100.0,475.2 L107.2,473.6 L114.3,471.9 L121.4,469.9 L128.6,467.7 L135.7,465.4 L142.9,462.8 L150.0,460.0 L157.2,456.9 L164.3,453.7 L171.5,450.2 L178.6,446.5 L185.7,442.5 L192.9,438.3 L200.0,433.9 L207.2,429.2 L214.3,424.2 L221.5,418.9 L228.6,413.4 L235.8,407.6 L242.9,401.4 L250.0,395.0 L257.2,388.2 L264.3,381.1 L271.5,373.7 L278.6,365.9 L285.8,357.8 L292.9,349.2 L300.1,340.3 L307.2,331.0 L314.3,321.3 L321.5,311.1 L328.6,300.5 L335.8,289.4 L342.9,277.9 L350.1,265.9 L357.2,253.4 L364.3,240.4 L371.5,226.8 L378.6,212.7 L385.8,198.0 L392.9,182.8 L400.1,166.9 L407.2,150.5 L414.4,133.3 L421.5,115.6"/><path d="M0.0,487.2 L12.6,488.4 L25.1,489.5 L37.7,490.3 L50.2,491.0 L62.8,491.4 L75.3,491.6 L87.9,491.7 L100.4,491.6 L113.0,491.3 L125.5,490.8 L138.1,490.1 L150.7,489.2 L163.2,488.2 L175.8,487.0 L188.3,485.6 L200.9,484.0 L213.4,482.2 L226.0,480.2 L238.5,478.1 L251.1,475.7 L263.6,473.2 L276.2,470.4 L288.7,467.5 L301.3,464.3 L313.9,460.9 L326.4,457.3 L339.0,453.5 L351.5,449.4 L364.1,445.1 L376.6,440.5 L389.2,435.7 L401.7,430.6 L414.3,425.2 L426.8,419.6 L439.4,413.6 L452.0,407.3 L464.5,400.7 L477.1,393.8 L489.6,386.5 L502.2,378.8 L514.7,370.8 L527.3,362.4 L539.8,353.6 L552.4,344.3 L564.9,334.7 L577.5,324.5 L590.0,314.0 L602.6,302.9 L615.2,291.3 L627.7,279.2 L640.3,266.6 L652.8,253.4 L665.4,239.7 L677.9,225.3 L690.5,210.3 L703.0,194.7 L715.6,178.4 L728.1,161.5 L740.7,143.8"/><path d="M412.2,122 L421.5,115.4 L423.5,126.7"/><path d="M730.1,148.3 L740.7,144.4 L740.5,155.4"/></g>
<g stroke="#1a1a1a" stroke-width="1.3" fill="none"><line x1="341.8" y1="280.5" x2="509.3" y2="371"/><line x1="383.5" y1="369.4" x2="472.6" y2="395.4"/></g>
<path d="M470.7,382.2 L509,409.3 L639,409.3 a8,8 0 0 1 8,8 L647,446 a8,8 0 0 1 -8,8 L508.5,454 a8,8 0 0 1 -8,-8 L500.5,417.5 Z" fill="rgba(176,176,176,0.86)" stroke="#2a2a2a" stroke-width="1.4" stroke-linejoin="round"/>
</g>
<rect x="841" y="44" width="1" height="560" fill="#50535e"/>
<rect x="6" y="578" width="891" height="1" fill="#50535e"/>
<rect x="841" y="328" width="56" height="17" fill="#26a69a"/>
<rect x="842" y="336" width="4" height="1" fill="#fff"/>
<g fill="none" stroke="#131722" stroke-width="1.2" stroke-linecap="round"><circle cx="868.3" cy="592.2" r="5.3"/>
<path d="M868.3,585.2 v1.6 M868.3,597.6 v1.6 M861.3,592.2 h1.6 M873.7,592.2 h1.6 M863.3,587.2 l1.2,1.2 M872.1,596 l1.2,1.2 M863.3,597.2 l1.2,-1.2 M872.1,588.4 l1.2,-1.2"/></g>
</svg>

<!-- legend -->
<span class="abs pt2" style="left:20.77px;top:43.12px;font-size:15.6px;color:#4c525e;transform:scaleX(0.8683);-webkit-text-stroke:0.2px">CFDs</span> <span class="abs pt2" style="left:59.57px;top:43.12px;font-size:15.6px;color:#4c525e;transform:scaleX(1.0630);-webkit-text-stroke:0.2px">on</span> <span class="abs pt2" style="left:81.84px;top:43.12px;font-size:15.6px;color:#4c525e;transform:scaleX(1.0375);-webkit-text-stroke:0.2px">Gold</span> <span class="abs pt2" style="left:120.51px;top:43.12px;font-size:15.6px;color:#4c525e;transform:scaleX(0.8853);-webkit-text-stroke:0.2px">(US$</span> <span class="abs pt2" style="left:158.60px;top:43.12px;font-size:15.6px;color:#4c525e;transform:scaleX(1.4098);">/</span> <span class="abs pt2" style="left:170.34px;top:43.12px;font-size:15.6px;color:#4c525e;transform:scaleX(0.9780);-webkit-text-stroke:0.2px">OZ)</span> <span class="abs" style="left:199.8px;top:54.6px;line-height:18px;font-size:15.6px;color:#8a8d95">·</span> <span class="abs pt2" style="left:206.59px;top:43.12px;font-size:15.6px;color:#4c525e;transform:scaleX(1.0878);-webkit-text-stroke:0.2px">M</span> <span class="abs" style="left:223.4px;top:54.6px;line-height:18px;font-size:15.6px;color:#8a8d95">·</span> <span class="abs pt2" style="left:231.57px;top:43.12px;font-size:15.6px;color:#4c525e;transform:scaleX(0.9174);-webkit-text-stroke:0.2px">TVC</span>
<svg class="abs" style="left:262px;top:58px" width="12" height="10" viewBox="0 0 12 10" fill="none" stroke="#131722" stroke-width="1.4" stroke-linecap="round" stroke-linejoin="round"><path d="M2,3.3 l3.6,3.3 l3.6,-3.3"/></svg>
<span class="abs pt2" style="left:291.49px;top:44.00px;font-size:12px;color:#4c525e;transform:scaleX(1.1820);">O</span> <span class="abs pt2" style="left:302.96px;top:44.00px;font-size:12px;color:#26a69a;transform:scaleX(1.0357);-webkit-text-stroke:0.2px">1412.77</span> <span class="abs pt2" style="left:357.20px;top:44.00px;font-size:12px;color:#4c525e;transform:scaleX(1.1993);">H</span> <span class="abs pt2" style="left:366.92px;top:44.00px;font-size:12px;color:#26a69a;transform:scaleX(1.0764);-webkit-text-stroke:0.2px">1474.92</span> <span class="abs pt2" style="left:422.66px;top:44.00px;font-size:12px;color:#4c525e;transform:scaleX(1.0420);">L</span> <span class="abs pt2" style="left:430.33px;top:44.00px;font-size:12px;color:#26a69a;transform:scaleX(1.0664);-webkit-text-stroke:0.2px">1400.65</span> <span class="abs pt2" style="left:486.04px;top:44.00px;font-size:12px;color:#4c525e;transform:scaleX(1.0330);">C</span> <span class="abs pt2" style="left:495.25px;top:44.00px;font-size:12px;color:#26a69a;transform:scaleX(1.0548);-webkit-text-stroke:0.2px">1463.04</span> <span class="abs pt2" style="left:551.76px;top:44.00px;font-size:12px;color:#26a69a;transform:scaleX(1.0649);-webkit-text-stroke:0.2px">+50.74</span> <span class="abs pt2" style="left:595.11px;top:44.00px;font-size:12px;color:#26a69a;transform:scaleX(1.0080);-webkit-text-stroke:0.2px">(+3.59%)</span>

<!-- price scale -->
<div class="pl" style="top:542.9px">−250.00</div><i class="pt" style="top:550px"></i><div class="pl" style="top:510.9px">0.00</div><i class="pt" style="top:518px"></i><div class="pl" style="top:479.9px">250.00</div><i class="pt" style="top:487px"></i><div class="pl" style="top:448.9px">500.00</div><i class="pt" style="top:456px"></i><div class="pl" style="top:417.9px">750.00</div><i class="pt" style="top:425px"></i><div class="pl" style="top:386.9px">1000.00</div><i class="pt" style="top:394px"></i><div class="pl" style="top:355.9px">1250.00</div><i class="pt" style="top:363px"></i><div class="pl" style="top:293.9px">1750.00</div><i class="pt" style="top:301px"></i><div class="pl" style="top:262.9px">2000.00</div><i class="pt" style="top:270px"></i><div class="pl" style="top:231.9px">2250.00</div><i class="pt" style="top:239px"></i><div class="pl" style="top:199.9px">2500.00</div><i class="pt" style="top:207px"></i><div class="pl" style="top:168.9px">2750.00</div><i class="pt" style="top:176px"></i><div class="pl" style="top:137.9px">3000.00</div><i class="pt" style="top:145px"></i><div class="pl" style="top:106.9px">3250.00</div><i class="pt" style="top:114px"></i><div class="pl" style="top:75.9px">3500.00</div><i class="pt" style="top:83px"></i><div class="pl" style="top:44.9px">3750.00</div><i class="pt" style="top:52px"></i>
<div class="pl" style="top:328.4px;color:#fff">1463.04</div>
<!-- time scale -->
<div class="abs" style="left:6px;top:0;width:835px;height:609px;overflow:hidden"><div class="abs" style="left:-6px;top:0">
<div class="tl" style="left:-8.7px">1998</div><i class="tt" style="left:11px"></i><div class="tl" style="left:88.6px">2002</div><i class="tt" style="left:108px"></i><div class="tl" style="left:185.9px">2006</div><i class="tt" style="left:205px"></i><div class="tl" style="left:283.2px">2010</div><i class="tt" style="left:303px"></i><div class="tl" style="left:380.5px">2014</div><i class="tt" style="left:400px"></i><div class="tl" style="left:477.8px">2018</div><i class="tt" style="left:497px"></i><div class="tl" style="left:575.1px">2022</div><i class="tt" style="left:595px"></i><div class="tl" style="left:672.4px">2026</div><i class="tt" style="left:692px"></i><div class="tl" style="left:769.7px">2030</div><i class="tt" style="left:789px"></i>
</div></div>

<!-- annotations -->
<div class="abs" id="exd" style="left:85px;top:230px;width:216px;height:58px;border:3px solid #000;background:#fff;font-weight:bold;font-size:40px;line-height:52px;text-align:center;color:#000;white-space:nowrap">EXHIBIT D</div>
<div class="abs" id="tgt" style="left:642px;top:99px;width:188px;height:38px;border:1px solid #000;background:#fff;font-weight:bold;font-size:16px;line-height:16px;color:#000;white-space:nowrap;padding:3px 0 0 3px">Target in the late 2020's<br><span style="margin-left:-1.2px">or early 2030's $3000+</span></div>
<div class="abs" id="cal" style="left:511.5px;top:418.9px;font-family:'DejaVu Sans',sans-serif;font-weight:bold;font-size:11.9px;letter-spacing:-0.03px;line-height:12.2px;color:#111;white-space:nowrap">Very big bullish<br>descending wedge</div>

</div></body></html>
